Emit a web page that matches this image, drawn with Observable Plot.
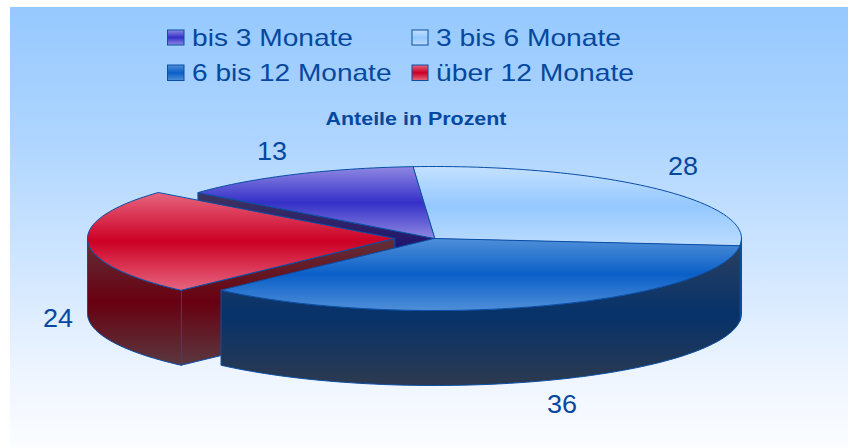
<!DOCTYPE html>
<html lang="de">
<head>
<meta charset="utf-8">
<script src="https://cdn.jsdelivr.net/npm/d3@7"></script>
<script src="https://cdn.jsdelivr.net/npm/@observablehq/plot@0.6"></script>
<style>html,body{margin:0;padding:0;background:#fff}svg{display:block}</style>
</head>
<body>
<div id="chart"></div>
<script>
const categories = ["bis 3 Monate", "3 bis 6 Monate", "6 bis 12 Monate", "über 12 Monate"];
const values = [13, 28, 36, 24];
const title = "Anteile in Prozent";

// ---- layout and style (pixels of the 848x448 picture) ----
const W = 848, H = 448;
const cx = 434, cy = 238, rx = 307, ry = 72, depth = 75;
const deg = Math.PI / 180;
const startDeg = -50.4;
const explode = [0, 0, 0, 40];            // only the last slice is pulled out, to the left
const ink = "#06489e", edge = "#0b4fa6";

const gradients = {
  bg:     [["0%", "#96c9ff"], ["30%", "#aed5ff"], ["85%", "#f0f6ff"], ["100%", "#fbfdff"]],
  top0:   [["0%", "#8f88e2"], ["50%", "#3430c8"], ["100%", "#8f88e2"]],
  wall0:  [["0%", "#3f3560"], ["50%", "#1c1070"], ["100%", "#3f3560"]],
  top1:   [["0%", "#c4e1ff"], ["50%", "#94c8ff"], ["100%", "#bcdcff"]],
  wall1:  [["0%", "#2a3f60"], ["50%", "#06326a"], ["100%", "#2d3a4f"]],
  top2:   [["0%", "#4f8fd8"], ["50%", "#0a5fc8"], ["100%", "#4f8fd8"]],
  wall2:  [["0%", "#2a3f60"], ["50%", "#06326a"], ["100%", "#2d3a4f"]],
  top3:   [["0%", "#e6657f"], ["50%", "#cc0024"], ["100%", "#e6657f"]],
  wall3:  [["0%", "#62303a"], ["50%", "#680010"], ["100%", "#5a3840"]]
};

function defs() {
  const d = d3.create("svg:defs");
  for (const [id, stops] of Object.entries(gradients)) {
    const g = d.append("linearGradient").attr("id", id).attr("x1", 0).attr("y1", 0).attr("x2", 0).attr("y2", 1);
    for (const [o, c] of stops) g.append("stop").attr("offset", o).attr("stop-color", c);
  }
  return d.node();
}

// ---- slice geometry comes from the values ----
const arcs = d3.pie().sort(null).value(d => d)
  .startAngle(startDeg * deg).endAngle((startDeg + 360) * deg)(values);

const onRim = (a, dx, down = 0) => ({x: cx - dx + rx * Math.sin(a), y: cy - ry * Math.cos(a) + down});
const sweep = (a0, a1) => { const n = Math.max(2, Math.ceil(Math.abs(a1 - a0) / (deg * 1.5))); return d3.range(n + 1).map(i => a0 + (a1 - a0) * i / n); };

const topFace = i => {
  const {startAngle: a0, endAngle: a1} = arcs[i], dx = explode[i];
  return [{x: cx - dx, y: cy}, ...sweep(a0, a1).map(a => onRim(a, dx))];
};
// outer wall: only the part of the rim that faces the viewer
const outerWall = i => {
  const a0 = Math.max(arcs[i].startAngle, 90 * deg), a1 = Math.min(arcs[i].endAngle, 270 * deg), dx = explode[i];
  if (a1 <= a0) return null;
  const s = sweep(a0, a1);
  return [...s.map(a => onRim(a, dx)), ...s.reverse().map(a => onRim(a, dx, depth))];
};
// cut wall: the radial face along the slice's start edge, visible from the front
const cutWall = i => {
  const a = arcs[i].startAngle, dx = explode[i], p = onRim(a, dx);
  return [{x: cx - dx, y: cy}, p, {x: p.x, y: p.y + depth}, {x: cx - dx, y: cy + depth}];
};

const poly = (pts, fill) => Plot.line(pts, {x: "x", y: "y", curve: "linear-closed", fill, stroke: edge, strokeWidth: 1});

const marks = [
  defs,
  Plot.rect([0], {x1: () => 10, x2: () => W, y1: () => 7, y2: () => H, fill: "url(#bg)"}),
  // back to front
  poly(topFace(1), "url(#top1)"),
  poly(outerWall(1), "url(#wall1)"),
  poly(cutWall(0), "url(#wall0)"),
  poly(topFace(0), "url(#top0)"),
  poly(cutWall(3), "url(#wall3)"),
  poly(outerWall(3), "url(#wall3)"),
  poly(topFace(3), "url(#top3)"),
  poly(outerWall(2), "url(#wall2)"),
  poly(topFace(2), "url(#top2)")
];

// ---- legend, title and value labels ----
const legendX = [[167.5, 184, 192], [412, 428, 436]];
const legendY = [[30, 45, 46], [65, 80.5, 81]];
const legendCell = [[0, 0], [1, 0], [0, 1], [1, 1]];
const fitWidth = {"bis 3 Monate": 161, "3 bis 6 Monate": 185, "6 bis 12 Monate": 199.5, "über 12 Monate": 198, [title]: 181,
                  "13": 30, "28": 30, "36": 30, "24": 30};

categories.forEach((c, i) => {
  const [col, row] = legendCell[i];
  const [x1, x2, tx] = legendX[col], [y1, y2, by] = legendY[row];
  marks.push(Plot.rect([c], {x1: () => x1, x2: () => x2, y1: () => y1, y2: () => y2,
    fill: `url(#top${i})`, stroke: edge, strokeWidth: 1}));
  marks.push(Plot.text([c], {x: () => tx - 0.5, y: () => by - 0.5, text: d => d, textAnchor: "start", lineAnchor: "bottom",
    fontSize: 24, fill: ink}));
});

marks.push(Plot.text([title], {x: () => 415.5, y: () => 124.5, text: d => d, lineAnchor: "bottom",
  fontSize: 19, fontWeight: "bold", fill: ink}));

const labelPos = [[271.5, 159.5], [682.5, 174], [561.5, 412], [57.5, 326]];
values.forEach((v, i) => {
  marks.push(Plot.text([v], {x: () => labelPos[i][0], y: () => labelPos[i][1], text: d => String(d), lineAnchor: "bottom",
    fontSize: 25, fill: ink}));
});

const plot = Plot.plot({
  width: W, height: H,
  margin: 0,
  x: {axis: null, domain: [0, W], range: [0, W]},
  y: {axis: null, domain: [0, H], range: [0, H]},
  style: {fontFamily: "'Liberation Sans', Arial, sans-serif", background: "transparent"},
  marks
});

d3.select(plot).selectAll("text").each(function () {
  const w = fitWidth[this.textContent];
  if (w) d3.select(this).attr("textLength", w).attr("lengthAdjust", "spacingAndGlyphs");
});

document.getElementById("chart").append(plot);
</script>
</body>
</html>
